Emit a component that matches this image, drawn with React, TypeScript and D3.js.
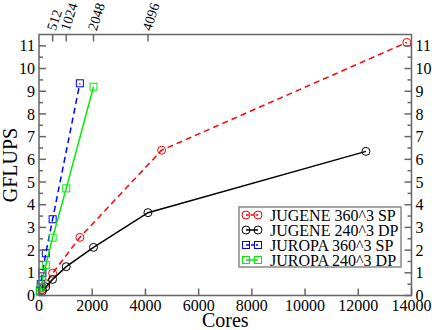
import React from 'react';
import * as d3 from 'd3';

// scaling data (cores vs GFLUPS)
const jugeneSpCores = [128, 256, 512, 1536, 4608, 13824];
const jugeneSpValues = [0.27, 0.52, 0.98, 2.56, 6.4, 11.15];
const jugeneDpCores = [128, 256, 512, 1024, 2048, 4096, 12288];
const jugeneDpValues = [0.2, 0.38, 0.71, 1.27, 2.12, 3.65, 6.35];
const juropaSpCores = [32, 64, 128, 256, 512, 1536];
const juropaSpValues = [0.22, 0.5, 1.0, 1.86, 3.36, 9.35];
const juropaDpCores = [32, 64, 128, 256, 512, 1024, 2048];
const juropaDpValues = [0.16, 0.34, 0.66, 1.34, 2.55, 4.72, 9.2];

const seriesNames = ['JUGENE 360^3 SP', 'JUGENE 240^3 DP', 'JUROPA 360^3 SP', 'JUROPA 240^3 DP'];
const bottomTicks = [0, 2000, 4000, 6000, 8000, 10000, 12000, 14000];
const topTicks = [512, 1024, 2048, 4096];
const yTicks = [0, 1, 2, 3, 4, 5, 6, 7, 8, 9, 10, 11];

const W = 432;
const H = 330;
const left = 39, right = 411.5, top = 34.5, bottom = 295.5;
const font = '"Liberation Serif", "Times New Roman", serif';
const frameColor = '#666';

const series = [
  { name: seriesNames[0], cores: jugeneSpCores, values: jugeneSpValues, color: '#ff0000', dash: '6,4', marker: 'circle' },
  { name: seriesNames[1], cores: jugeneDpCores, values: jugeneDpValues, color: '#000000', dash: null, marker: 'circle' },
  { name: seriesNames[2], cores: juropaSpCores, values: juropaSpValues, color: '#0000ff', dash: '6,4', marker: 'square' },
  { name: seriesNames[3], cores: juropaDpCores, values: juropaDpValues, color: '#00ee00', dash: null, marker: 'square' },
];

const Marker = ({ type, x, y, color }) =>
  type === 'circle'
    ? <circle cx={x} cy={y} r={4} fill="none" stroke={color} strokeWidth={1} />
    : <rect x={x - 3.5} y={y - 3.5} width={7} height={7} fill="none" stroke={color} strokeWidth={1} />;

export default function App() {
  const x = d3.scaleLinear().domain([0, 14000]).range([left, right]);
  const y = d3.scaleLinear().domain([0, 11.5]).range([bottom, top]);
  const minorY = d3.range(0.5, 11.5, 1);

  const line = d3.line<number>()
    .x(d => d[0])
    .y(d => d[1]);

  // legend box
  const lgX = 239, lgY = 207, lgW = 162, lgH = 60, rowH = 15;

  return (
    <svg width={W} height={H} style={{ position: 'absolute', left: 0, top: 0, fontFamily: font }}>
      <rect x={0} y={0} width={W} height={H} fill="#fff" />

      {/* series */}
      {series.map(s => {
        const pts = s.cores.map((c, i) => [x(c), y(s.values[i])]);
        return (
          <g key={s.name}>
            <path d={line(pts)} fill="none" stroke={s.color} strokeWidth={1.5}
              strokeDasharray={s.dash || undefined} />
            {pts.map((p, i) => <Marker key={i} type={s.marker} x={p[0]} y={p[1]} color={s.color} />)}
          </g>
        );
      })}

      {/* frame */}
      <rect x={left} y={top} width={right - left} height={bottom - top} fill="none" stroke={frameColor} strokeWidth={1.5} />

      {/* y ticks left and right */}
      {yTicks.map(t => (
        <g key={t}>
          <line x1={left} x2={left + 7} y1={y(t)} y2={y(t)} stroke={frameColor} strokeWidth={1.5} />
          <line x1={right} x2={right - 7} y1={y(t)} y2={y(t)} stroke={frameColor} strokeWidth={1.5} />
          <text x={left - 4} y={y(t)} dy="0.35em" textAnchor="end" fontSize={16}>{t}</text>
          <text x={right + 4} y={y(t)} dy="0.35em" textAnchor="start" fontSize={16}>{t}</text>
        </g>
      ))}
      {minorY.map(t => (
        <g key={'m' + t}>
          <line x1={left} x2={left + 4} y1={y(t)} y2={y(t)} stroke={frameColor} strokeWidth={1.5} />
          <line x1={right} x2={right - 4} y1={y(t)} y2={y(t)} stroke={frameColor} strokeWidth={1.5} />
        </g>
      ))}

      {/* bottom ticks */}
      {bottomTicks.map(t => (
        <g key={t}>
          <line x1={x(t)} x2={x(t)} y1={bottom} y2={bottom - 7} stroke={frameColor} strokeWidth={1.5} />
          <text x={x(t)} y={bottom + 15} textAnchor="middle" fontSize={16}>{t}</text>
        </g>
      ))}

      {/* top ticks */}
      {topTicks.map(t => (
        <g key={t}>
          <line x1={x(t)} x2={x(t)} y1={top} y2={top + 7} stroke={frameColor} strokeWidth={1.5} />
          <text transform={`translate(${x(t) + 3},${top - 3}) rotate(-72)`} fontSize={14}>{t}</text>
        </g>
      ))}

      {/* axis titles */}
      <text transform={`translate(17,${(top + bottom) / 2}) rotate(-90)`} textAnchor="middle" fontSize={20}>GFLUPS</text>
      <text x={(left + right) / 2} y={327} textAnchor="middle" fontSize={20}>Cores</text>

      {/* legend */}
      <rect x={lgX} y={lgY} width={lgW} height={lgH} fill="#fff" stroke="#888" strokeWidth={1.5} />
      {series.map((s, i) => {
        const ry = lgY + 8 + i * rowH;
        return (
          <g key={s.name}>
            <line x1={lgX + 7} x2={lgX + 19} y1={ry} y2={ry} stroke={s.color} strokeWidth={1.5}
              strokeDasharray={s.dash ? '3,2' : undefined} />
            <Marker type={s.marker} x={lgX + 7} y={ry} color={s.color} />
            <Marker type={s.marker} x={lgX + 19} y={ry} color={s.color} />
            <text x={lgX + 31} y={ry} dy="0.35em" fontSize={16}>{s.name}</text>
          </g>
        );
      })}
    </svg>
  );
}
